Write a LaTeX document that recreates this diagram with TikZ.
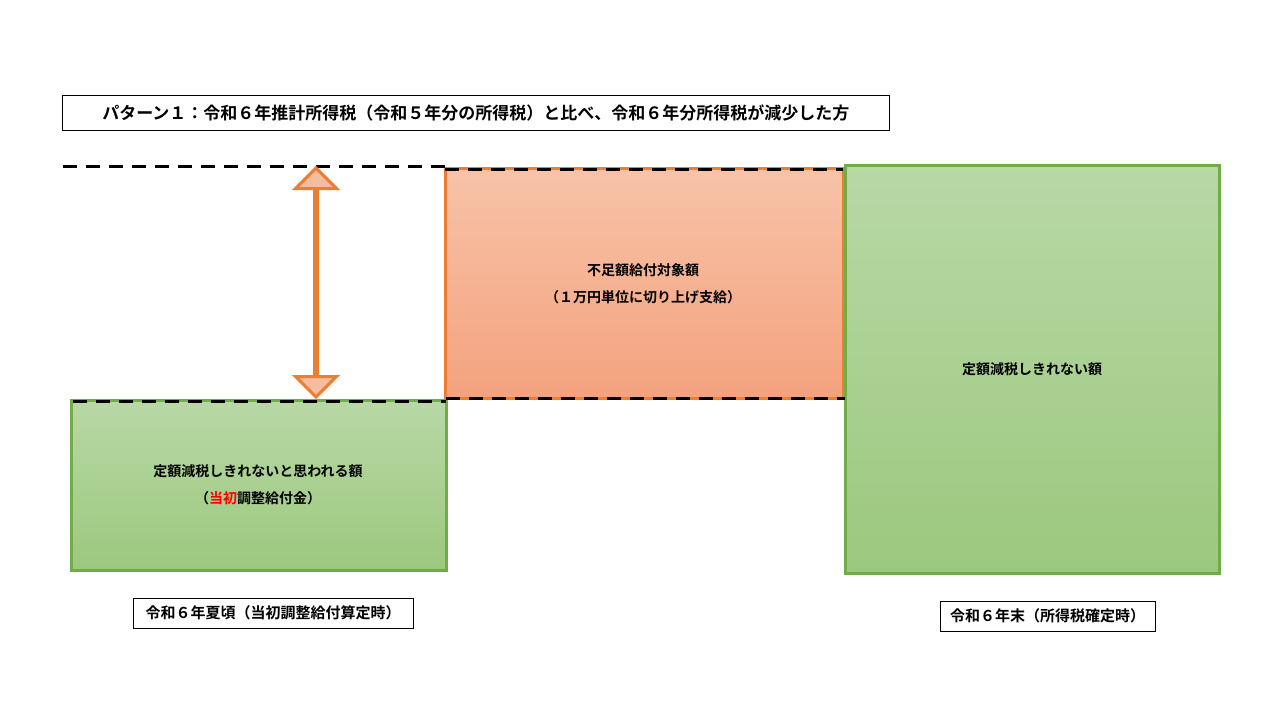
\documentclass[tikz,border=0pt]{standalone}
\usepackage{fontspec}
\setmainfont{Noto Sans CJK JP}[BoldFont={Noto Sans CJK JP Bold}]
\usetikzlibrary{shapes.arrows}
\definecolor{gborder}{HTML}{70AD47}
\definecolor{gtop}{HTML}{B8D8A6}
\definecolor{gbot}{HTML}{9CC87E}
\definecolor{oborder}{HTML}{ED7D31}
\definecolor{otop}{HTML}{F7C3A8}
\definecolor{obot}{HTML}{F4A27E}
\tikzset{
  lbl/.style={draw=black, line width=0.8pt, fill=white, inner sep=0pt, font=\fontsize{15}{18}\selectfont\bfseries},
  greenbox/.style={draw=gborder, line width=3pt, top color=gtop, bottom color=gbot},
  orangebox/.style={draw=oborder, line width=3pt, top color=otop, bottom color=obot},
  dline/.style={draw=black, line width=3pt, dash pattern=on 14pt off 9pt},
  txt/.style={font=\fontsize{14}{17}\selectfont\bfseries}
}
\begin{document}
\begin{tikzpicture}[x=1pt,y=-1pt]
\useasboundingbox (0,0) rectangle (1280,720);
\fill[white] (0,0) rectangle (1280,720);
% title
\node[lbl, minimum width=827pt, minimum height=35pt, anchor=north west, font=\fontsize{17}{20}\selectfont\bfseries] (title) at (62,95) {パターン１：令和６年推計所得税（令和５年分の所得税）と比べ、令和６年分所得税が減少した方};
% boxes
\path[orangebox] (445,168) rectangle (843,398);
\node[txt] (o1) at (643,270) {不足額給付対象額};
\node[txt] (o2) at (643,297) {（１万円単位に切り上げ支給）};
\path[greenbox] (71,400) rectangle (446,570);
\node[txt] (g1) at (258,471) {定額減税しきれないと思われる額};
\node[txt] (g2) at (258,498) {（\textcolor{red}{当初}調整給付金）};
\path[greenbox] (845,165) rectangle (1219,573);
\node[txt] (r1) at (1032,369) {定額減税しきれない額};
% dashed lines
\coordinate (d1a) at (63,166); \coordinate (d1b) at (845,168);
\draw[dline] (63,166) -- (445,166);
\draw[dline] (445,169) -- (843,169);
\draw[dline] (73,401) -- (446,401);
\draw[dline] (446,398) -- (845,398);
% double arrow
\node[double arrow, draw=oborder, line width=3pt, fill=otop!80!obot, rotate=90,
  minimum width=22pt, double arrow head extend=19pt, double arrow head indent=0pt,
  minimum height=229pt, inner sep=0pt] (arr) at (316,282.5) {};
% labels
\node[lbl, minimum width=280pt, minimum height=30pt] (l1) at (273,613) {令和６年夏頃（当初調整給付算定時）};
\node[lbl, minimum width=215pt, minimum height=30pt] (l2) at (1047.5,616) {令和６年末（所得税確定時）};
\end{tikzpicture}
\end{document}
